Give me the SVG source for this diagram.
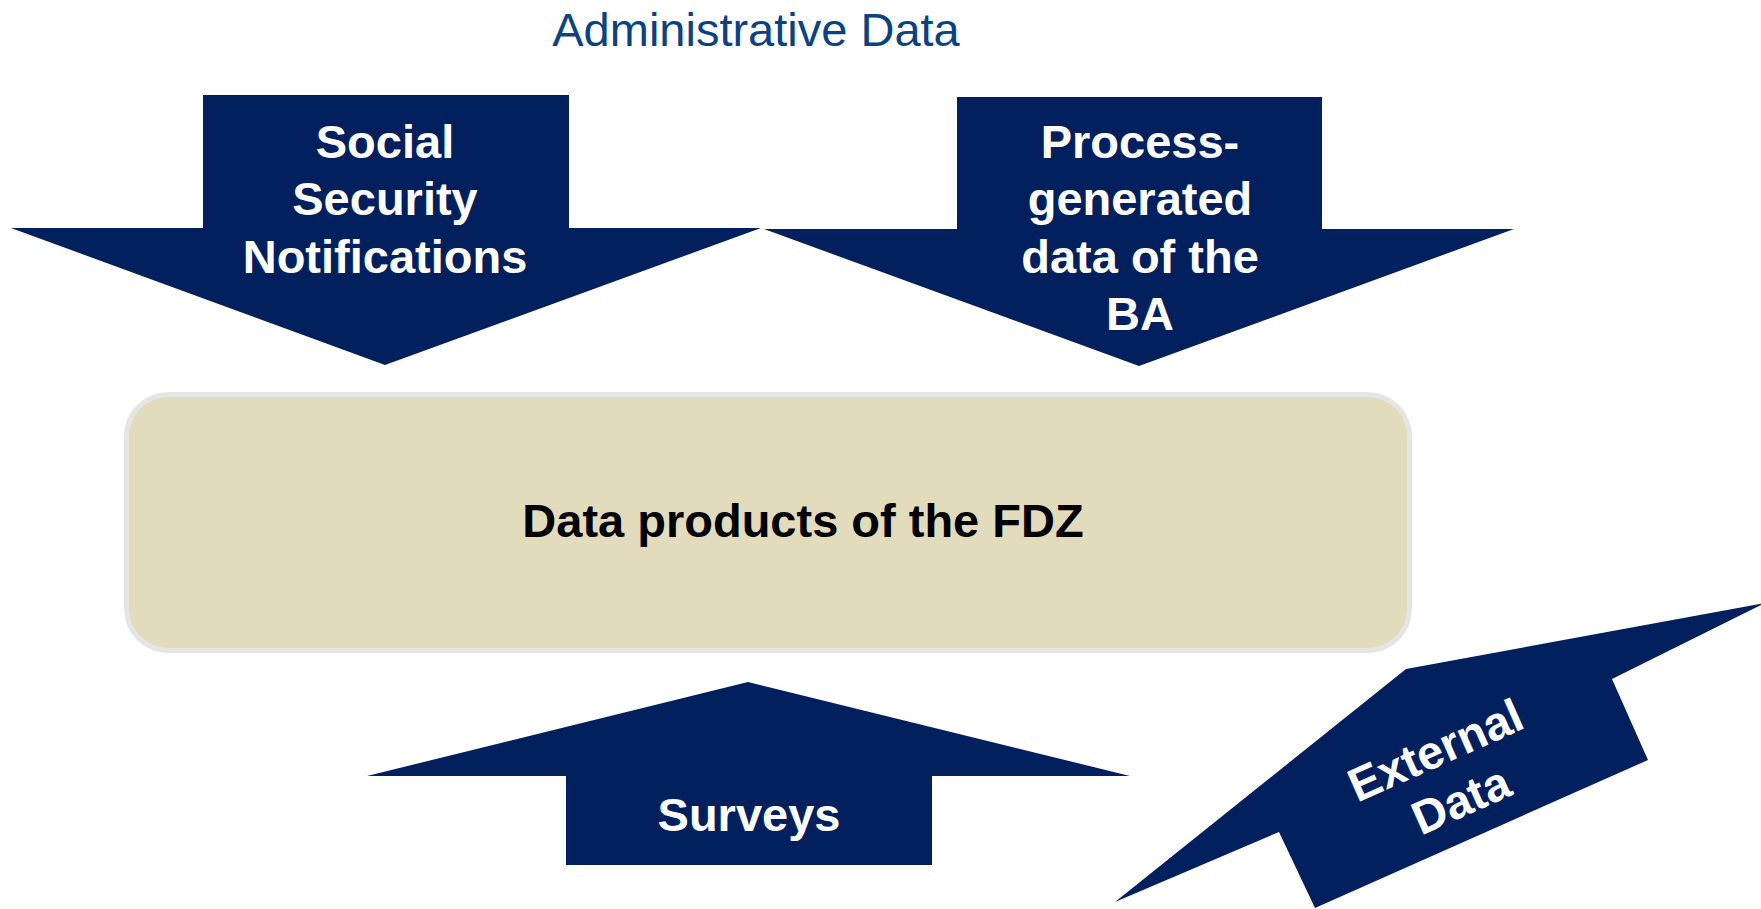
<svg xmlns="http://www.w3.org/2000/svg" width="1761" height="909" viewBox="0 0 1761 909">
<style>
.arrow{fill:#02205e}
.lbl{font-family:"Liberation Sans",Arial,sans-serif;font-weight:bold;font-size:47px;fill:#ffffff;text-anchor:middle}
.main{font-family:"Liberation Sans",Arial,sans-serif;font-weight:bold;font-size:47px;fill:#000000;text-anchor:middle}
.title{font-family:"Liberation Sans",Arial,sans-serif;font-size:47px;fill:#0a4282;text-anchor:middle}
</style>
<rect width="1761" height="909" fill="#ffffff"/>
<text class="title" x="756" y="46">Administrative Data</text>
<g id="connectors">
<g id="arrow-social">
<polygon class="arrow" points="203,95 569,95 569,228 761,228 385,365 11,228 203,228"/>
<text class="lbl" x="385" y="158">Social</text>
<text class="lbl" x="385" y="215">Security</text>
<text class="lbl" x="385" y="273">Notifications</text>
</g>
<g id="arrow-process">
<polygon class="arrow" points="957,97 1322,97 1322,229 1514,229 1139,366 764,229 957,229"/>
<text class="lbl" x="1140" y="158">Process-</text>
<text class="lbl" x="1140" y="215">generated</text>
<text class="lbl" x="1140" y="273">data of the</text>
<text class="lbl" x="1140" y="330">BA</text>
</g>
<g id="arrow-surveys">
<polygon class="arrow" points="748,682 1130,776 932,776 932,865 566,865 566,776 367,776"/>
<text class="lbl" x="749" y="831">Surveys</text>
</g>
<g id="arrow-external">
<polygon class="arrow" points="1406,669 1765,603 1612,679 1648,760 1315,908 1279,832 1115,902"/>
<g transform="translate(1442,765) rotate(-24)">
<text class="lbl" x="0" y="0">External</text>
<text class="lbl" x="3" y="56">Data</text>
</g>
</g>
</g>
<g id="node-fdz">
<rect x="126.5" y="394.5" width="1283" height="256" rx="42" ry="42" fill="#e2dcbd" stroke="#e5e5e5" stroke-width="5"/>
<text class="main" x="803" y="537">Data products of the FDZ</text>
</g>
</svg>
